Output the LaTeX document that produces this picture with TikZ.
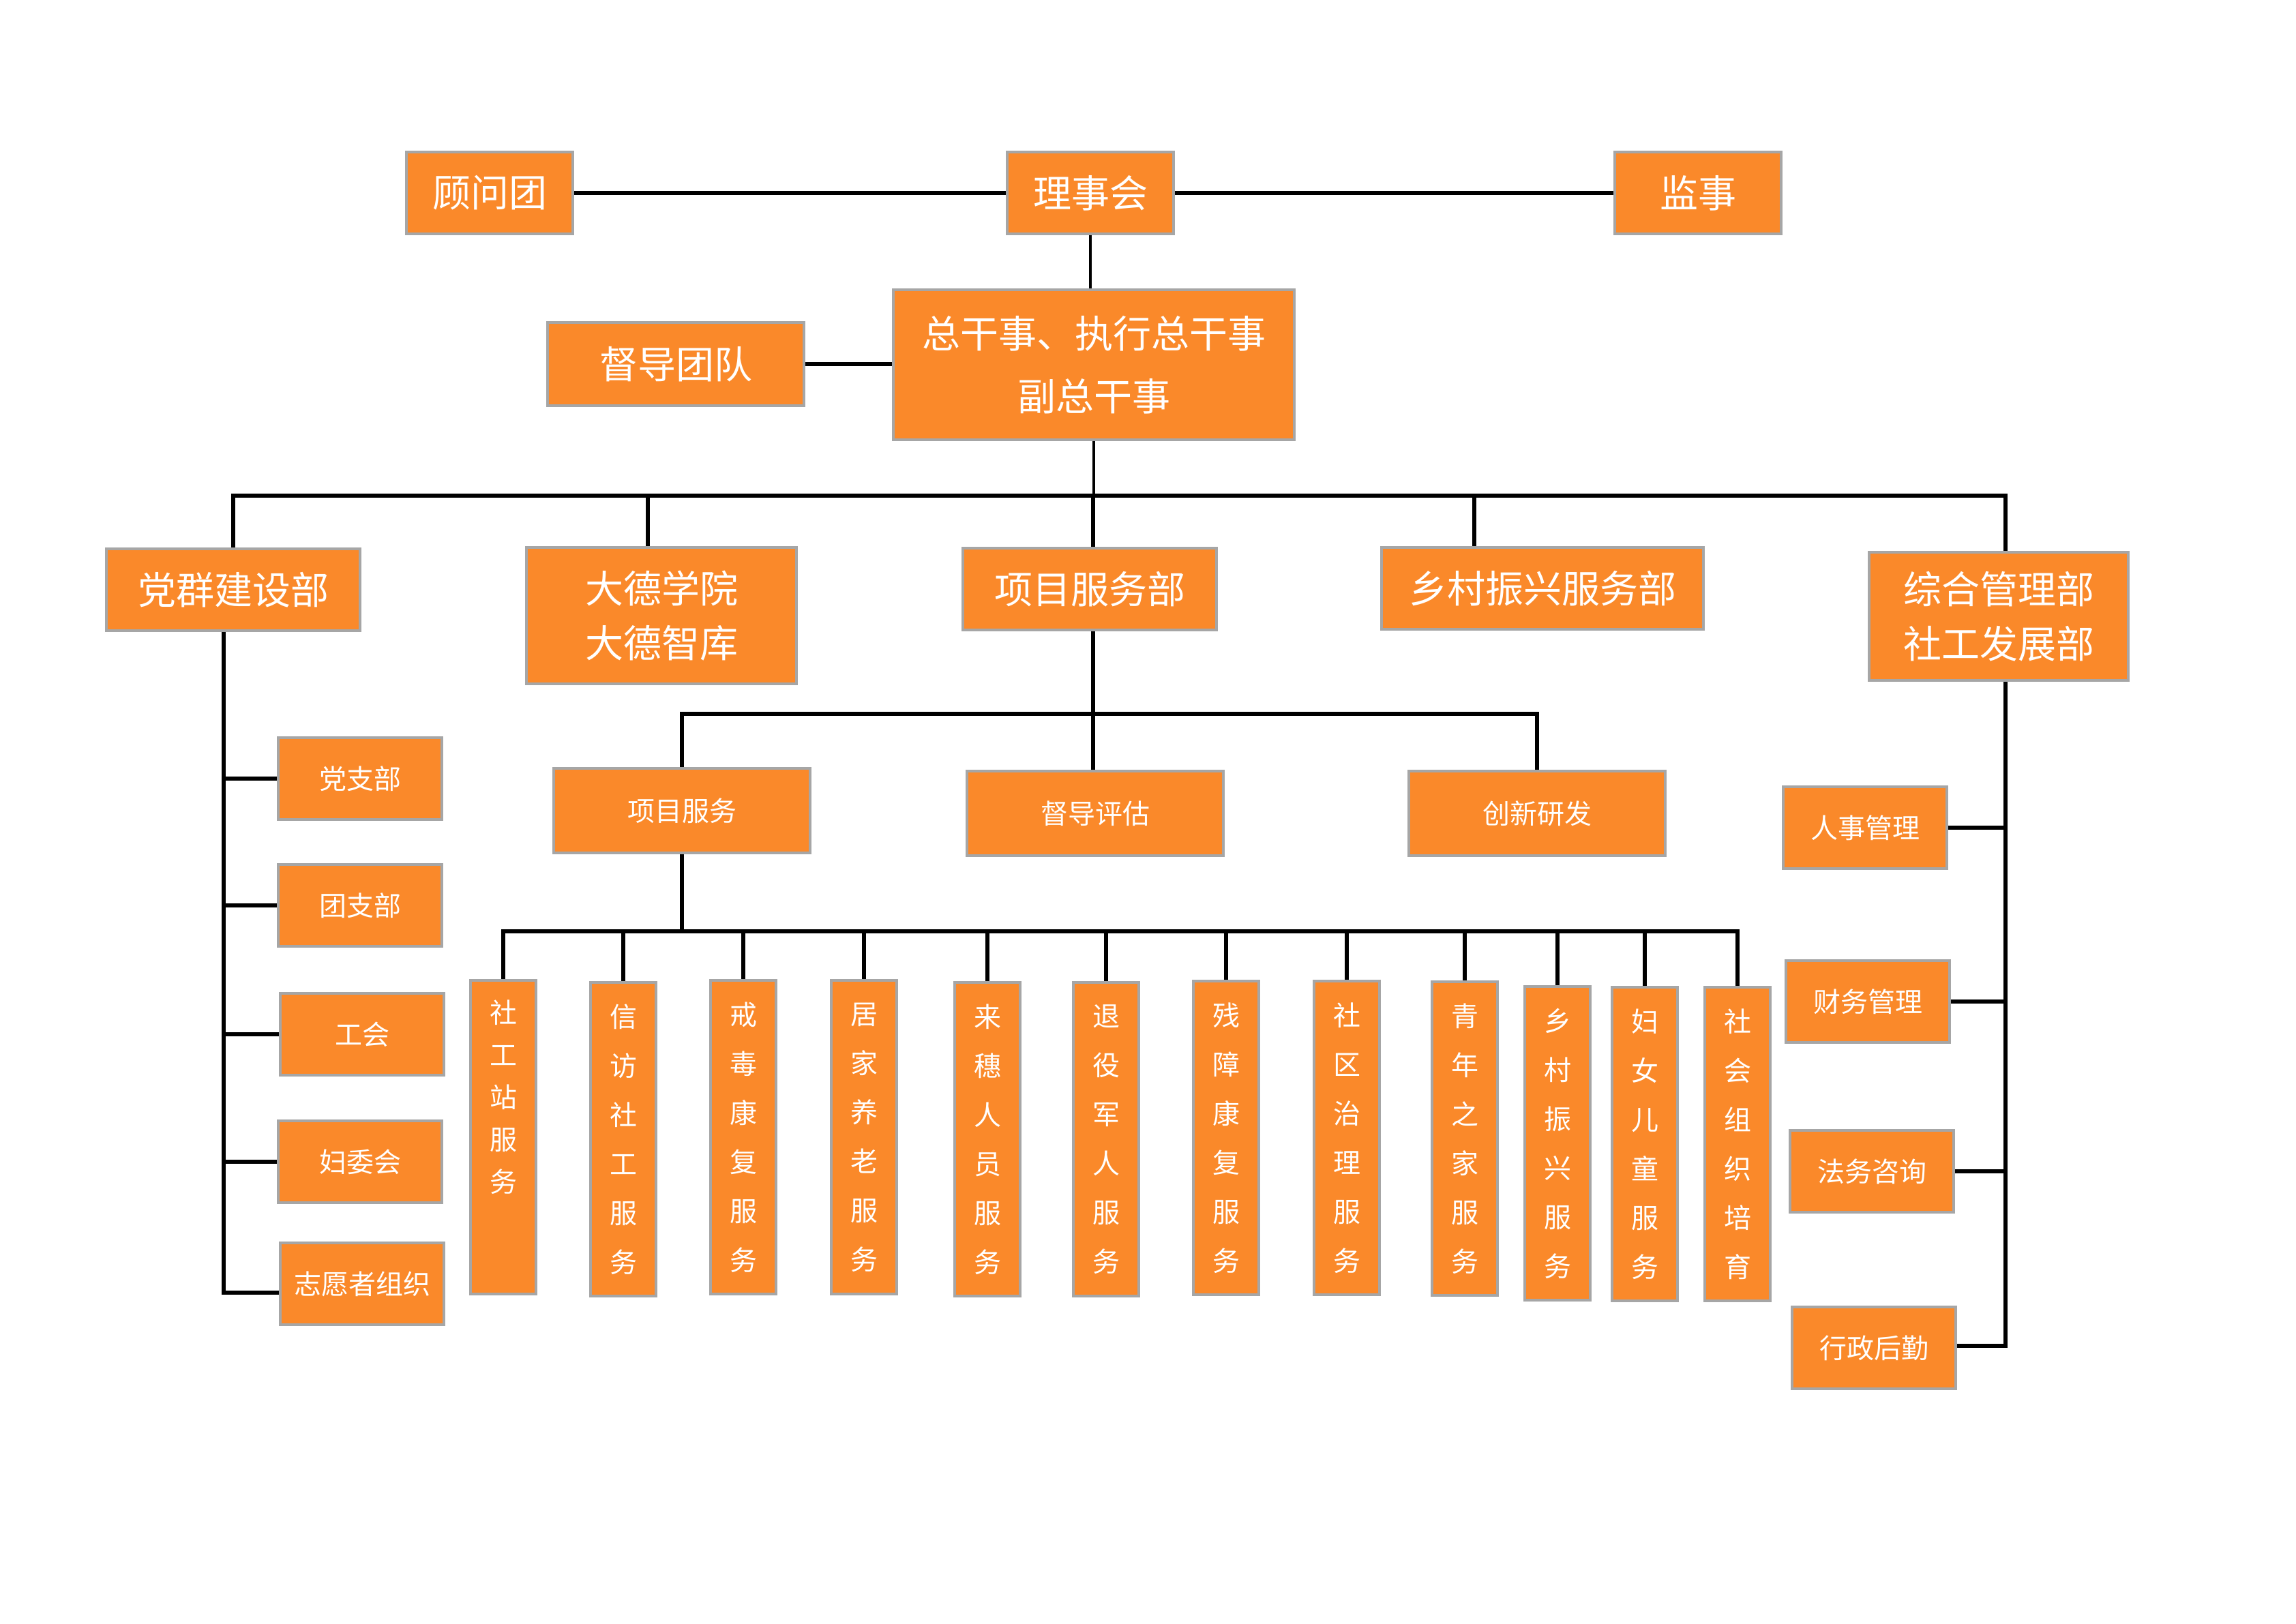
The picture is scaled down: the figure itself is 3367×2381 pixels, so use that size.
\documentclass[tikz,border=0pt]{standalone}
\usepackage{fontspec}
\newfontfamily\cjk{Noto Sans CJK SC}
\usetikzlibrary{calc}
\definecolor{boxorange}{RGB}{250,137,42}
\definecolor{boxgray}{RGB}{166,166,166}
\tikzset{
  box/.style={draw=boxgray,fill=boxorange,line width=1.2pt,text=white,inner sep=0pt,
    align=center,font=\cjk\fontsize{14}{20}\selectfont},
  topbox/.style={box,minimum width=61pt,minimum height=30pt},
  dept/.style={box,minimum width=93pt,minimum height=30pt},
  smallbox/.style={box,minimum width=60pt,minimum height=30pt,font=\cjk\fontsize{10}{12}\selectfont},
  midbox/.style={box,minimum width=94pt,minimum height=31pt,font=\cjk\fontsize{10}{12}\selectfont},
  column/.style={box,minimum width=24pt,minimum height=115pt,font=\cjk\fontsize{10}{18}\selectfont},
  link/.style={line width=1.4pt,black,line join=miter},
  thin link/.style={line width=1pt,black},
}

\begin{document}
\begin{tikzpicture}[x=0.25pt,y=-0.25pt]
  \useasboundingbox (0,0) rectangle (3367,2381);

  % board
  \node[topbox] (gwt) at (718,283) {顾问团};
  \node[topbox] (lsh) at (1599,283) {理事会};
  \node[topbox] (jsh) at (2490,283) {监事};
  \node[box,minimum width=147pt,minimum height=55pt,font=\cjk\fontsize{14}{23}\selectfont]
    (zgs) at (1604,535) {总干事、执行总干事\\副总干事};
  \node[box,minimum width=94pt,minimum height=30.5pt] (ddtd) at (991,534) {督导团队};

  \draw[link] (gwt.east) -- (lsh.west);
  \draw[link] (lsh.east) -- (jsh.west);
  \draw[thin link] (lsh.south) -- (lsh.south |- zgs.north);
  \draw[link] (ddtd.east) -- (ddtd.east -| zgs.west);

  % departments
  \coordinate (bus) at (1603,727);
  \coordinate (bus-dd) at (950,727);
  \coordinate (bus-xc) at (2162,727);
  \coordinate (rt) at (2941,1974);
  \node[dept] (dqjs) at (342,865) {党群建设部};
  \node[box,minimum width=99pt,minimum height=50pt] (ddxy) at (970,903) {大德学院\\大德智库};
  \node[dept] (xmfw) at (1598,864) {项目服务部};
  \node[box,minimum width=118pt,minimum height=30pt] (xczx) at (2262,863) {乡村振兴服务部};
  \node[box,minimum width=95pt,minimum height=47pt] (zhgl) at (2931,904) {综合管理部\\社工发展部};

  \draw[thin link] (zgs.south) -- (zgs.south |- bus);
  \draw[link] (dqjs.north) -- (dqjs.north |- bus) -- (rt |- bus) -- (rt |- zhgl.north);
  \draw[link] (bus-dd) -- (bus-dd |- ddxy.north);
  \draw[link] (bus) -- (bus |- xmfw.north);
  \draw[link] (bus-xc) -- (bus-xc |- xczx.north);

  % party branches
  \coordinate (lt) at (328,1896);
  \node[smallbox] (dzb) at (528,1142) {党支部};
  \node[smallbox] (tzb) at (528,1328) {团支部};
  \node[smallbox] (gh) at (531,1517) {工会};
  \node[smallbox] (fwh) at (528,1704) {妇委会};
  \node[smallbox] (zyz) at (531,1883) {志愿者组织};

  \draw[link] (dqjs.south -| lt) -- (lt) -- (lt -| zyz.west);
  \foreach \b in {dzb,tzb,gh,fwh}
    \draw[link] (\b.west -| lt) -- (\b.west);

  % project service
  \coordinate (sb) at (1603,1047);
  \node[midbox] (xmf) at (1000,1189) {项目服务};
  \node[midbox] (ddpg) at (1606,1193) {督导评估};
  \node[midbox] (cxyf) at (2254,1193) {创新研发};

  \draw[link] (xmfw.south -| sb) -- (ddpg.north -| sb);
  \draw[link] (xmf.north) -- (xmf.north |- sb) -- (cxyf.north |- sb) -- (cxyf.north);

  \coordinate (cb) at (1002,1366);
  \node[column,font=\cjk\fontsize{10}{15.5}\selectfont] (c1) at (738,1668) {社\\工\\站\\服\\务\\[14.5pt]\mbox{}};
  \node[column] (c2) at (914,1671) {信\\访\\社\\工\\服\\务};
  \node[column] (c3) at (1090,1668) {戒\\毒\\康\\复\\服\\务};
  \node[column] (c4) at (1267,1668) {居\\家\\养\\老\\服\\务};
  \node[column] (c5) at (1448,1671) {来\\穗\\人\\员\\服\\务};
  \node[column] (c6) at (1622,1671) {退\\役\\军\\人\\服\\务};
  \node[column] (c7) at (1798,1669) {残\\障\\康\\复\\服\\务};
  \node[column] (c8) at (1975,1669) {社\\区\\治\\理\\服\\务};
  \node[column] (c9) at (2148,1670) {青\\年\\之\\家\\服\\务};
  \node[column] (c10) at (2284,1677) {乡\\村\\振\\兴\\服\\务};
  \node[column] (c11) at (2412,1678) {妇\\女\\儿\\童\\服\\务};
  \node[column] (c12) at (2548,1678) {社\\会\\组\\织\\培\\育};

  \draw[link] (xmf.south) -- (xmf.south |- cb);
  \draw[link] (c1.north) -- (c1.north |- cb) -- (c12.north |- cb) -- (c12.north);
  \foreach \c in {c2,c3,c4,c5,c6,c7,c8,c9,c10,c11}
    \draw[link] (\c.north) -- (\c.north |- cb);

  % admin
  \node[smallbox] (rsgl) at (2735,1214) {人事管理};
  \node[smallbox] (cwgl) at (2739,1469) {财务管理};
  \node[smallbox] (fwzx) at (2745,1718) {法务咨询};
  \node[smallbox] (xzhq) at (2748,1977) {行政后勤};

  \draw[link] (rt |- zhgl.south) -- (rt) -- (rt -| xzhq.east);
  \foreach \b in {rsgl,cwgl,fwzx}
    \draw[link] (\b.east) -- (\b.east -| rt);
\end{tikzpicture}
\end{document}
